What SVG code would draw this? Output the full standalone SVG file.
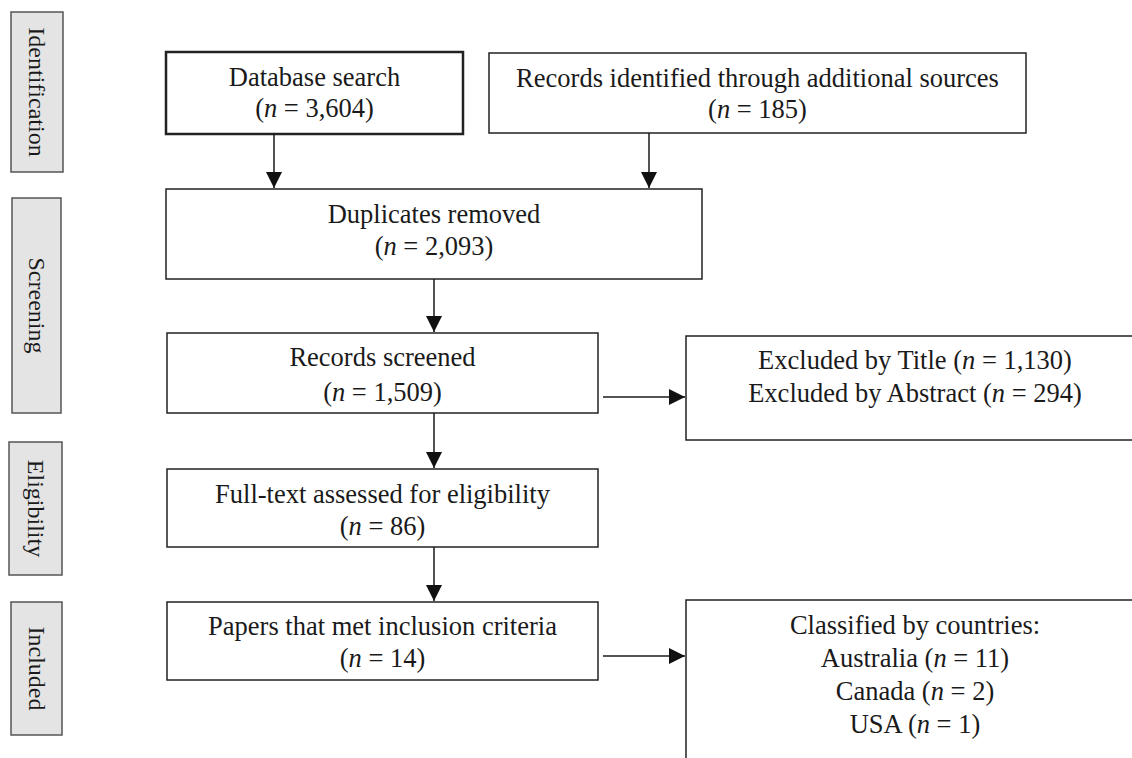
<svg xmlns="http://www.w3.org/2000/svg" width="1132" height="758" viewBox="0 0 1132 758">
<defs>
<style>
.box{fill:#fff;stroke:#222;stroke-width:1.5}
.thick{stroke-width:2.5}
.lab{fill:#e4e4e4;stroke:#555;stroke-width:1.5}
.t{font-family:"Liberation Serif","Times New Roman",serif;font-size:26.5px;fill:#1a1a1a;text-anchor:middle}
.lt{font-family:"Liberation Serif","Times New Roman",serif;font-size:24px;fill:#1a1a1a;text-anchor:middle}
.c{stroke:#1a1a1a;stroke-width:1.5;fill:none;marker-end:url(#ah)}
</style>
<marker id="ah" viewBox="0 0 16 16" refX="16" refY="8" markerWidth="16" markerHeight="16" markerUnits="userSpaceOnUse" orient="auto">
<path d="M0,0 L16,8 L0,16 Z" fill="#111"/>
</marker>
</defs>
<rect width="1132" height="758" fill="#fff"/>

<g id="label-identification">
<rect class="lab" x="11" y="12" width="52" height="160"/>
<text class="lt" transform="translate(37,92) rotate(90)" y="8">Identification</text>
</g>
<g id="label-screening">
<rect class="lab" x="12" y="198" width="49" height="215"/>
<text class="lt" transform="translate(36.5,305.5) rotate(90)" y="8">Screening</text>
</g>
<g id="label-eligibility">
<rect class="lab" x="9" y="442" width="53" height="133"/>
<text class="lt" transform="translate(35.5,508.5) rotate(90)" y="8">Eligibility</text>
</g>
<g id="label-included">
<rect class="lab" x="11" y="602" width="51" height="133"/>
<text class="lt" transform="translate(36.5,668.5) rotate(90)" y="8">Included</text>
</g>

<g id="node-database">
<rect class="box thick" x="166" y="52" width="297" height="82"/>
<text class="t" x="314.5" y="86">Database search</text>
<text class="t" x="314.5" y="117">(<tspan font-style="italic">n</tspan> = 3,604)</text>
</g>
<g id="node-additional">
<rect class="box" x="489" y="53" width="537" height="80"/>
<text class="t" x="757.5" y="87">Records identified through additional sources</text>
<text class="t" x="757.5" y="118">(<tspan font-style="italic">n</tspan> = 185)</text>
</g>
<g id="node-duplicates">
<rect class="box" x="166" y="189" width="536" height="90"/>
<text class="t" x="434" y="223">Duplicates removed</text>
<text class="t" x="434" y="255">(<tspan font-style="italic">n</tspan> = 2,093)</text>
</g>
<g id="node-screened">
<rect class="box" x="167" y="333" width="431" height="80"/>
<text class="t" x="382.5" y="366">Records screened</text>
<text class="t" x="382.5" y="401">(<tspan font-style="italic">n</tspan> = 1,509)</text>
</g>
<g id="node-excluded">
<rect class="box" x="686" y="336" width="460" height="104"/>
<text class="t" x="915" y="369">Excluded by Title (<tspan font-style="italic">n</tspan> = 1,130)</text>
<text class="t" x="915" y="402">Excluded by Abstract (<tspan font-style="italic">n</tspan> = 294)</text>
</g>
<g id="node-fulltext">
<rect class="box" x="167" y="469" width="431" height="78"/>
<text class="t" x="382.5" y="503">Full-text assessed for eligibility</text>
<text class="t" x="382.5" y="535">(<tspan font-style="italic">n</tspan> = 86)</text>
</g>
<g id="node-included">
<rect class="box" x="167" y="602" width="431" height="78"/>
<text class="t" x="382.5" y="635">Papers that met inclusion criteria</text>
<text class="t" x="382.5" y="667">(<tspan font-style="italic">n</tspan> = 14)</text>
</g>
<g id="node-countries">
<rect class="box" x="686" y="600" width="460" height="200"/>
<text class="t" x="915" y="634">Classified by countries:</text>
<text class="t" x="915" y="667">Australia (<tspan font-style="italic">n</tspan> = 11)</text>
<text class="t" x="915" y="700">Canada (<tspan font-style="italic">n</tspan> = 2)</text>
<text class="t" x="915" y="733">USA (<tspan font-style="italic">n</tspan> = 1)</text>
</g>

<g id="connectors">
<path class="c" d="M274,134 V188"/>
<path class="c" d="M649,133 V188"/>
<path class="c" d="M434,279 V332"/>
<path class="c" d="M603,397 H685"/>
<path class="c" d="M434,413 V468"/>
<path class="c" d="M434,547 V601"/>
<path class="c" d="M603,656 H685"/>
</g>
</svg>
